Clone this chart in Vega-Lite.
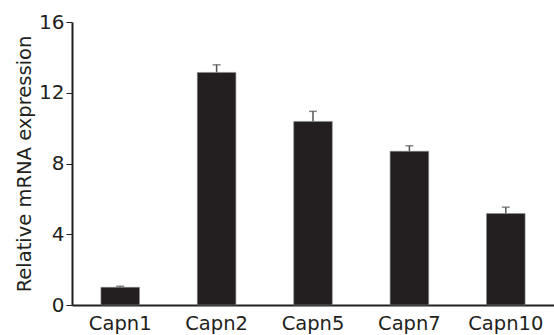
{
  "$schema": "https://vega.github.io/schema/vega-lite/v6.json",
  "width": 482,
  "height": 283,
  "autosize": "none",
  "padding": {"left": 72, "top": 22, "right": 0, "bottom": 30},
  "background": "white",
  "config": {"view": {"stroke": null}, "font": "DejaVu Sans"},
  "data": {"values": [
    {"gene": "Capn1", "value": 1.0, "upper": 1.06},
    {"gene": "Capn2", "value": 13.15, "upper": 13.58},
    {"gene": "Capn5", "value": 10.38, "upper": 10.95},
    {"gene": "Capn7", "value": 8.69, "upper": 9.0},
    {"gene": "Capn10", "value": 5.17, "upper": 5.53}
  ]},
  "encoding": {
    "x": {"field": "gene", "type": "nominal", "sort": null,
      "scale": {"paddingInner": 0.6, "paddingOuter": 0.3},
      "axis": {"title": null, "labelAngle": 0, "ticks": false, "labelFontSize": 19.5, "labelColor": "#231f20", "labelPadding": 9, "domainColor": "#231f20", "domainWidth": 2}}
  },
  "layer": [
    {"mark": {"type": "rule", "color": "#555555", "strokeWidth": 1.5},
     "encoding": {"y": {"field": "value", "type": "quantitative"}, "y2": {"field": "upper"}}},
    {"mark": {"type": "tick", "color": "#555555", "thickness": 1.5, "size": 8},
     "encoding": {"y": {"field": "upper", "type": "quantitative"}}},
    {"mark": {"type": "bar", "color": "#231f20", "stroke": "#888888", "strokeWidth": 0.6},
     "encoding": {"y": {"field": "value", "type": "quantitative",
       "scale": {"domain": [0, 16], "nice": false},
       "axis": {"title": "Relative mRNA expression", "titleFontSize": 19.5, "titleFontWeight": "normal", "titleColor": "#231f20", "titlePadding": 4,
         "values": [0, 2, 4, 6, 8, 10, 12, 14, 16],
         "labelExpr": "datum.value % 4 == 0 ? datum.label : ''",
         "labelFontSize": 20, "labelColor": "#231f20", "labelPadding": 2,
         "tickSize": 6, "tickColor": "#231f20", "tickWidth": 1,
         "domainColor": "#231f20", "domainWidth": 2, "grid": false}}}}
  ]
}
